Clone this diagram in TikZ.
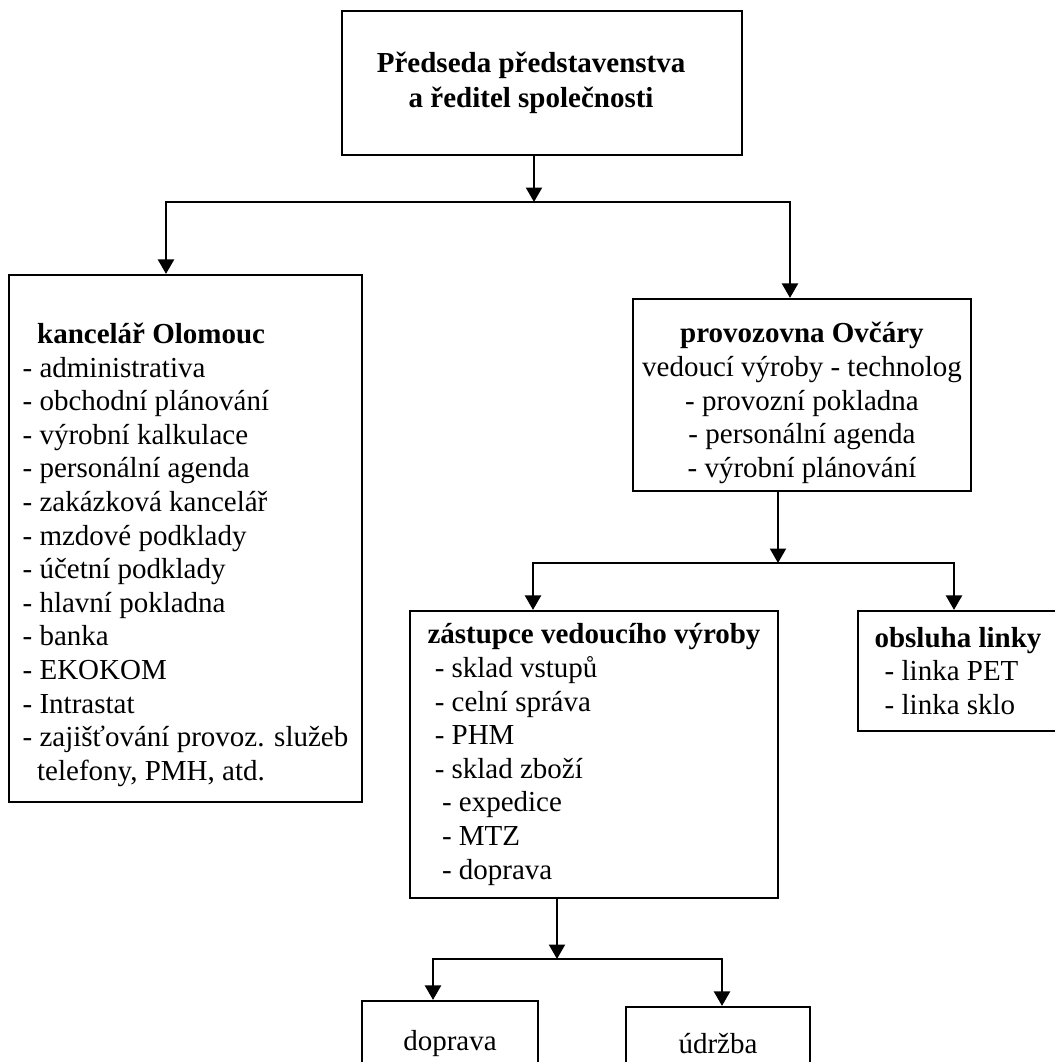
\documentclass[tikz,border=0pt]{standalone}
\usepackage{fontspec}
\setmainfont{Liberation Serif}
\usetikzlibrary{arrows.meta}
\newlength\pxl
\setlength\pxl{0.4138pt}
\tikzset{
  box/.style={draw, line width=0.9pt, inner sep=0pt, font=\fontsize{12}{13.9}\selectfont},
  arr/.style={line width=1pt, -{Triangle[length=6pt,width=6.6pt]}}
}

\begin{document}
\begin{tikzpicture}[x=0.4138pt, y=-0.4138pt]
  \clip (0,0) rectangle (1055,1062);

  \node[box, align=center, minimum width=400\pxl, minimum height=144\pxl,
        font=\fontsize{12}{14.5}\selectfont\bfseries] (predseda) at (542,83)
    {Předseda představenstva\hspace*{9pt}\\a ředitel společnosti\hspace*{9pt}};

  \node[box, align=left, minimum width=353\pxl, minimum height=527\pxl] (kancelar) at (185.5,538.5)
    {\rule{0pt}{22pt}\hspace*{0.5em}\textbf{kancelář Olomouc}\\
     - administrativa\\
     - obchodní plánování\\
     - výrobní kalkulace\\
     - personální agenda\\
     - zakázková kancelář\\
     - mzdové podklady\\
     - účetní podklady\\
     - hlavní pokladna\\
     - banka\\
     - EKOKOM\\
     - Intrastat\\
     - zajišťování provoz. služeb\\
     \hspace*{0.5em}telefony, PMH, atd.};

  \node[box, align=center, minimum width=338\pxl, minimum height=192\pxl] (provozovna) at (802,395)
    {\rule{0pt}{15pt}\textbf{provozovna Ovčáry}\\
     vedoucí výroby - technolog\\
     - provozní pokladna\\
     - personální agenda\\
     - výrobní plánování};

  \node[box, align=left, minimum width=368\pxl, minimum height=287\pxl] (zastupce) at (594,754.5)
    {\textbf{zástupce vedoucího výroby}\\
     \hspace*{0.25em}- sklad vstupů\\
     \hspace*{0.25em}- celní správa\\
     \hspace*{0.25em}- PHM\\
     \hspace*{0.25em}- sklad zboží\\
     \hspace*{0.5em}- expedice\\
     \hspace*{0.5em}- MTZ\\
     \hspace*{0.5em}- doprava};

  \node[box, align=left, minimum width=200\pxl, minimum height=120\pxl] (obsluha) at (958,671)
    {\textbf{obsluha linky}\\
     \hspace*{0.35em}- linka PET\\
     \hspace*{0.35em}- linka sklo};

  \node[box, minimum width=176\pxl, minimum height=86\pxl] (doprava) at (450,1044) {doprava};
  \node[box, minimum width=184\pxl, minimum height=74\pxl] (udrzba) at (718,1044) {údržba};

  \coordinate (b1) at (534,202);
  \coordinate (b1l) at (166,202);
  \coordinate (b1r) at (790,202);
  \coordinate (b2) at (778,563);
  \coordinate (b2l) at (533,563);
  \coordinate (b2r) at (954,563);
  \coordinate (b3) at (557,959);
  \coordinate (b3l) at (433,959);
  \coordinate (b3r) at (722,959);

  \draw[arr] (predseda.south -| b1) -- (b1);
  \draw[arr] (b1) -- (b1l) -- (b1l |- kancelar.north);
  \draw[arr] (b1) -- (b1r) -- (b1r |- provozovna.north);

  \draw[arr] (provozovna.south -| b2) -- (b2);
  \draw[arr] (b2) -- (b2l) -- (b2l |- zastupce.north);
  \draw[arr] (b2) -- (b2r) -- (b2r |- obsluha.north);

  \draw[arr] (zastupce.south -| b3) -- (b3);
  \draw[arr] (b3) -- (b3l) -- (b3l |- doprava.north);
  \draw[arr] (b3) -- (b3r) -- (b3r |- udrzba.north);
\end{tikzpicture}
\end{document}
